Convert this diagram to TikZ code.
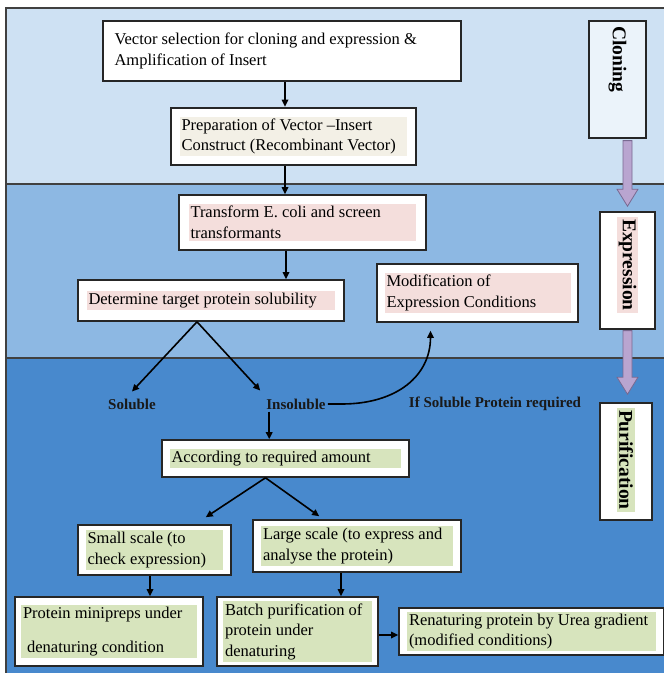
\documentclass[tikz,border=0pt]{standalone}
\usepackage{fontspec}
\setmainfont{Liberation Serif}
\usetikzlibrary{arrows.meta}
\usetikzlibrary{calc}
\usetikzlibrary{positioning}
\definecolor{bandA}{RGB}{206,225,243}
\definecolor{bandB}{RGB}{141,184,227}
\definecolor{bandC}{RGB}{72,137,205}
\definecolor{hlpink}{RGB}{244,222,220}
\definecolor{hlbeige}{RGB}{243,240,230}
\definecolor{hlgreen}{RGB}{215,228,189}
\definecolor{arrowfill}{RGB}{185,165,208}
\definecolor{arrowedge}{RGB}{120,105,145}
\setlength{\fboxsep}{2pt}
\newcommand{\hlbox}[3]{\colorbox{#1}{\parbox{#2}{\raggedright #3}}}

\begin{document}
\begin{tikzpicture}
  [x=1pt,y=-1pt,
  box/.style={draw=black!85,fill=white,line width=1.6pt,inner sep=0pt,font=\fontsize{16.5}{20.5}\selectfont},
  thickbox/.style={box,line width=2.6pt},
  sidebox/.style={draw=black!85,fill=white,line width=1.6pt,rotate=-90,inner sep=5pt,text width=107pt,align=left,font=\fontsize{19.5}{22}\selectfont\bfseries},
  lbl/.style={inner sep=2pt,font=\fontsize{15}{18}\selectfont\bfseries,text=black!90},
  arr/.style={-{Triangle[length=7pt,width=6.5pt]},line width=1.6pt},
  parrow/.style={fill=arrowfill,draw=arrowedge,line width=0.8pt}]
  \useasboundingbox (0,0) rectangle (664,673);

  % the three stages
  \fill[bandA] (6,8) rectangle (664,184);
  \fill[bandB] (6,184) rectangle (664,358);
  \fill[bandC] (6,358) rectangle (664,673);
  \draw[black!75,line width=1.2pt] (6,673) -- (6,8) -- (664,8);
  \draw[black!75,line width=1.5pt] (6,184) -- (664,184) (6,358) -- (664,358);

  \node[thickbox,minimum width=358pt,minimum height=60pt] (vec) at (282,51) {\hlbox{white}{335pt}{Vector selection for cloning and expression \&\\Amplification of Insert}};
  \node[thickbox,minimum width=245pt,minimum height=57pt] (prep) at (293.5,136.5) {\hlbox{hlbeige}{224pt}{Preparation of Vector –Insert\\Construct (Recombinant Vector)}};
  \node[box,minimum width=247pt,minimum height=55pt] (trans) at (302.5,222.5) {\hlbox{hlpink}{224pt}{Transform E. coli and screen\\transformants}};
  \node[box,minimum width=266pt,minimum height=41pt] (det) at (211,300.5) {\hlbox{hlpink}{245pt}{Determine target protein solubility}};
  \node[box,minimum width=201pt,minimum height=58pt] (modif) at (477.5,293) {\hlbox{hlpink}{182pt}{Modification of\\Expression Conditions}};

  \node[lbl] (sol) at (132,404) {Soluble};
  \node[lbl] (insol) at (296,404) {Insoluble};
  \node[lbl] (ifsol) at (495,404) {If Soluble Protein required};

  \node[box,minimum width=247pt,minimum height=37pt] (acc) at (285.5,458.5) {\hlbox{hlgreen}{228pt}{According to required amount}};
  \node[box,minimum width=153pt,minimum height=50pt] (small) at (154.5,550) {\hlbox{hlgreen}{134pt}{Small scale (to\\check expression)}};
  \node[box,minimum width=208pt,minimum height=52pt] (large) at (357,546) {\hlbox{hlgreen}{188pt}{Large scale (to express and\\analyse the protein)}};
  \node[box,minimum width=188pt,minimum height=69pt] (mini) at (109,631.5) {\hlbox{hlgreen}{172pt}{Protein minipreps under\\[13pt]\ denaturing condition}};
  \node[box,minimum width=161pt,minimum height=69pt] (batch) at (297.5,631.5) {\hlbox{hlgreen}{145pt}{Batch purification of\\protein under\\denaturing}};
  \node[box,minimum width=265pt,minimum height=47pt] (renat) at (531.5,631.5) {\hlbox{hlgreen}{245pt}{Renaturing protein by Urea gradient\\(modified conditions)}};

  % side labels, turned: west is the top, east the bottom
  \node[sidebox,fill=bandA!40!white,line width=2.6pt,minimum height=57pt] (clon) at (617.5,79.5) {Cloning};
  \node[sidebox,minimum height=55pt] (expr) at (627.5,270.5) {\colorbox{hlpink}{Expression}};
  \node[sidebox,minimum height=52pt] (purif) at (626,461.5) {\colorbox{hlgreen}{Purification}};

  \draw[arr] ([xshift=3pt]vec.south) -- ([xshift=3pt]vec.south |- prep.north);
  \draw[arr] ([xshift=-8.5pt]prep.south) -- ([xshift=-8.5pt]prep.south |- trans.north);
  \draw[arr] ([xshift=-16.5pt]trans.south) -- ([xshift=-16.5pt]trans.south |- det.north);
  \coordinate (split) at ([xshift=-14pt]det.south);
  \draw[arr] (split) -- ([yshift=5pt]sol.north);
  \draw[arr] (split) -- ([xshift=-4pt,yshift=6pt]insol.north west);
  \draw[arr] ([xshift=5pt]insol.south west) -- ([xshift=5pt]insol.south west |- acc.north);
  \draw[arr] (insol.east) -- ++(14,0) .. controls +(55,0) and +(0,45) .. ([xshift=-47pt,yshift=-8pt]modif.south);
  \coordinate (fork) at ([xshift=-20pt]acc.south);
  \draw[arr] (fork) -- ([xshift=-26pt,yshift=7pt]small.north east);
  \draw[arr] (fork) -- ([xshift=67pt,yshift=3pt]large.north west);
  \draw[arr] ([xshift=-4.5pt]small.south) -- ([xshift=-4.5pt]small.south |- mini.north);
  \draw[arr] ([xshift=-16pt]large.south) -- ([xshift=-16pt]large.south |- batch.north);
  \draw[arr] ([yshift=-3.5pt]batch.east) -- ([yshift=-3.5pt]batch.east -| renat.west);

  % stage arrows
  \coordinate (pa) at (clon.east -| expr.west);
  \coordinate (pt) at ($(expr.west)+(0,-5)$);
  \draw[parrow] ($(pa)+(-4.5,1.3)$) -- ($(pt)+(-4.5,-17)$) -- ($(pt)+(-10.5,-17)$) -- (pt) -- ($(pt)+(10.5,-17)$) -- ($(pt)+(4.5,-17)$) -- ($(pa)+(4.5,1.3)$) -- cycle;
  \coordinate (pb) at (expr.east);
  \coordinate (pu) at ($(purif.west -| expr.east)+(0,-8)$);
  \draw[parrow] ($(pb)+(-4.5,0.8)$) -- ($(pu)+(-4.5,-17)$) -- ($(pu)+(-10.5,-17)$) -- (pu) -- ($(pu)+(10.5,-17)$) -- ($(pu)+(4.5,-17)$) -- ($(pb)+(4.5,0.8)$) -- cycle;
\end{tikzpicture}
\end{document}
